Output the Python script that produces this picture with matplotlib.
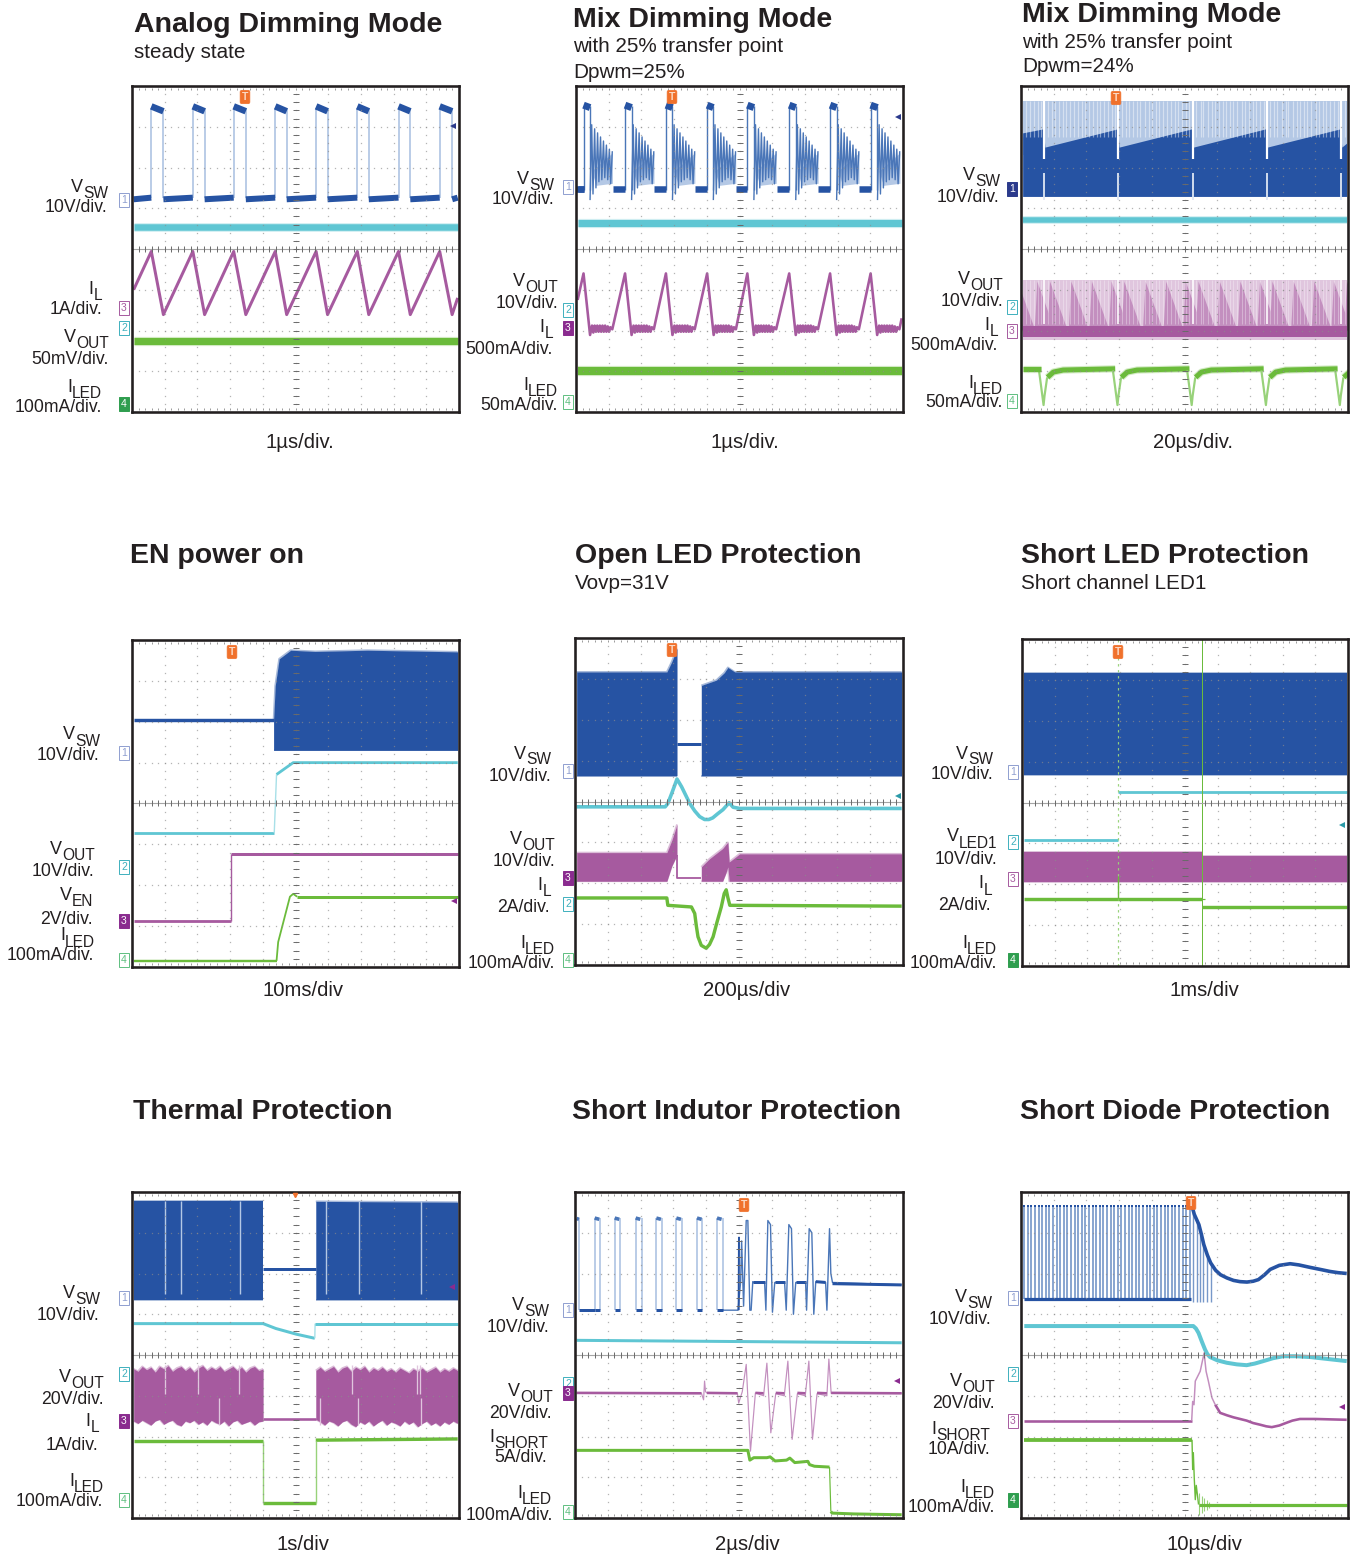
import matplotlib
matplotlib.use('Agg')
import matplotlib.pyplot as plt
import numpy as np
from matplotlib.lines import Line2D

W, H = 1352, 1556
plt.rcParams['font.family'] = ['Liberation Sans', 'DejaVu Sans']
plt.rcParams['lines.solid_capstyle'] = 'butt'

BLUE = '#2653a3'
MBLUE = '#4a76b8'
LBLUE = '#b4c8e5'
CYAN = '#5fc6d3'
LCYAN = '#a8e0e8'
PURPLE = '#a65a9f'
MPURPLE = '#c38fbf'
LPURPLE = '#e0c6de'
GREEN = '#6bbb3b'
LGREEN = '#98d27a'
INK = '#231f20'

# frames in pixels: left, top, right, bottom
frames = [(132, 86, 459, 412), (576, 86, 903, 412), (1021, 86, 1348, 412),
          (132, 640, 459, 967), (575, 638, 903, 965), (1022, 639, 1348, 966),
          (132, 1192, 459, 1518), (575, 1192, 903, 1518), (1021, 1192, 1348, 1518)]

# titles: text, x, y, bold
titles = [('Analog Dimming Mode', 134, 23, True), ('steady state', 134, 50, False),
          ('Mix Dimming Mode', 573, 18, True), ('with 25% transfer point', 573, 45, False), ('Dpwm=25%', 573, 70, False),
          ('Mix Dimming Mode', 1022, 13, True), ('with 25% transfer point', 1022, 40, False), ('Dpwm=24%', 1022, 65, False),
          ('EN power on', 130, 554, True),
          ('Open LED Protection', 575, 554, True), ('Vovp=31V', 575, 581, False),
          ('Short LED Protection', 1021, 554, True), ('Short channel LED1', 1021, 581, False),
          ('Thermal Protection', 133, 1110, True),
          ('Short Indutor Protection', 572, 1110, True),
          ('Short Diode Protection', 1020, 1110, True)]

time_labels = [('1µs/div.', 300, 440), ('1µs/div.', 745, 440), ('20µs/div.', 1193, 440),
               ('10ms/div', 303, 988), ('200µs/div', 747, 988), ('1ms/div', 1204, 988),
               ('1s/div', 303, 1543), ('2µs/div', 747, 1543), ('10µs/div', 1204, 1543)]

VSW = ('V', 'SW')
VOUT = ('V', 'OUT')
IL = ('I', 'L')
ILED = ('I', 'LED')
VEN = ('V', 'EN')
VLED1 = ('V', 'LED1')
ISHORT = ('I', 'SHORT')

# channel names and scales: text, right edge, y
side_labels = [
    (VSW, 108, 188), ('10V/div.', 107, 205), (IL, 102, 290), ('1A/div.', 102, 308),
    (VOUT, 109, 338), ('50mV/div.', 109, 358), (ILED, 102, 388), ('100mA/div.', 102, 405),
    (VSW, 554, 180), ('10V/div.', 554, 198), (VOUT, 558, 282), ('10V/div.', 558, 302),
    (IL, 553, 328), ('500mA/div.', 553, 347), (ILED, 558, 387), ('50mA/div.', 558, 404),
    (VSW, 1000, 177), ('10V/div.', 999, 196), (VOUT, 1003, 280), ('10V/div.', 1003, 299),
    (IL, 998, 326), ('500mA/div.', 998, 344), (ILED, 1003, 384), ('50mA/div.', 1003, 401),
    (VSW, 100, 736), ('10V/div.', 99, 754), (VOUT, 95, 850), ('10V/div.', 94, 869),
    (VEN, 93, 897), ('2V/div.', 93, 917), (ILED, 95, 937), ('100mA/div.', 94, 954),
    (VSW, 551, 755), ('10V/div.', 551, 774), (VOUT, 555, 840), ('10V/div.', 555, 860),
    (IL, 551, 886), ('2A/div.', 550, 905), (ILED, 555, 945), ('100mA/div.', 555, 961),
    (VSW, 993, 755), ('10V/div.', 993, 773), (VLED1, 997, 838), ('10V/div.', 997, 857),
    (IL, 992, 885), ('2A/div.', 991, 904), (ILED, 997, 945), ('100mA/div.', 997, 961),
    (VSW, 100, 1294), ('10V/div.', 99, 1313), (VOUT, 104, 1378), ('20V/div.', 104, 1398),
    (IL, 99, 1423), ('1A/div.', 98, 1443), (ILED, 104, 1483), ('100mA/div.', 103, 1500),
    (VSW, 549, 1307), ('10V/div.', 549, 1326), (VOUT, 553, 1392), ('20V/div.', 552, 1411),
    (ISHORT, 548, 1439), ('5A/div.', 547, 1456), (ILED, 552, 1495), ('100mA/div.', 553, 1513),
    (VSW, 992, 1299), ('10V/div.', 991, 1318), (VOUT, 995, 1383), ('20V/div.', 995, 1402),
    (ISHORT, 990, 1431), ('10A/div.', 990, 1447), (ILED, 995, 1488), ('100mA/div.', 995, 1505),
]

# channel flags: number, x, y, colour, filled
chan_flags = [
    ('1', 124, 200, '#8f9fd0', False), ('3', 124, 308, PURPLE, False), ('2', 124, 328, '#3fb0bd', False), ('4', 124, 404, '#2f9e4f', True),
    ('1', 568, 187, '#8f9fd0', False), ('2', 568, 310, '#3fb0bd', False), ('3', 568, 328, '#8a2b8f', True), ('4', 568, 402, '#5fbf80', False),
    ('1', 1012, 189, '#2b3a8c', True), ('2', 1012, 307, '#3fb0bd', False), ('3', 1012, 331, PURPLE, False), ('4', 1012, 401, '#5fbf80', False),
    ('1', 124, 753, '#8f9fd0', False), ('2', 124, 867, '#3fb0bd', False), ('3', 124, 921, '#8a2b8f', True), ('4', 124, 960, '#5fbf80', False),
    ('1', 568, 771, '#8f9fd0', False), ('3', 568, 878, '#8a2b8f', True), ('2', 568, 904, '#3fb0bd', False), ('4', 568, 960, '#5fbf80', False),
    ('1', 1013, 772, '#8f9fd0', False), ('2', 1013, 842, '#3fb0bd', False), ('3', 1013, 879, PURPLE, False), ('4', 1013, 960, '#2f9e4f', True),
    ('1', 124, 1298, '#8f9fd0', False), ('2', 124, 1374, '#3fb0bd', False), ('3', 124, 1421, '#8a2b8f', True), ('4', 124, 1500, '#5fbf80', False),
    ('1', 568, 1310, '#8f9fd0', False), ('2', 568, 1384, '#3fb0bd', False), ('3', 568, 1393, '#8a2b8f', True), ('4', 568, 1512, '#5fbf80', False),
    ('1', 1013, 1298, '#8f9fd0', False), ('2', 1013, 1374, '#3fb0bd', False), ('3', 1013, 1421, PURPLE, False), ('4', 1013, 1500, '#2f9e4f', True),
]

trigger_x_y = [(245, 97), (672, 97), (1116, 98), (232, 652), (672, 650), (1118, 652), (744, 1205), (1191, 1203)]
level_arrows = [(453, 126, '#2b3a8c'), (898, 117, '#2b3a8c'), (898, 796, '#2a9aa8'), (1342, 825, '#2a9aa8'),
                (454, 901, '#8a2b8f'), (452, 1287, '#8a2b8f'), (897, 1381, '#8a2b8f'), (1342, 1407, '#8a2b8f')]

# ---- traces, x in divisions (0-10), y in divisions (0-8) ----
# panel 1
p1_rise = [0.59, 1.86, 3.11, 4.38, 5.63, 6.89, 8.15, 9.41]
p1_fall = [0.96, 2.22, 3.48, 4.73, 5.98, 7.24, 8.51, 9.79]
p1_il_x = [0.05, 0.59, 0.96, 1.86, 2.22, 3.11, 3.48, 4.38, 4.73, 5.63, 5.98, 6.89, 7.24, 8.15, 8.51, 9.41, 9.79, 9.96]
p1_il_y = [3.0, 3.94, 2.39, 3.94, 2.39, 3.94, 2.39, 3.94, 2.39, 3.94, 2.39, 3.94, 2.39, 3.94, 2.39, 3.94, 2.39, 2.8]

# panel 2
p2_rise = [0.23, 1.50, 2.75, 4.01, 5.24, 6.52, 7.77, 9.01]
p2_fall = [0.43, 1.70, 2.95, 4.20, 5.44, 6.72, 7.97, 9.22]
p2_ring_dx = [0.0, 0.05, 0.09, 0.14, 0.18, 0.23, 0.27, 0.32, 0.36, 0.41, 0.45, 0.50, 0.54, 0.59, 0.63, 0.68]
p2_ring_y = [5.2, 7.05, 5.35, 6.95, 5.5, 6.85, 5.65, 6.75, 5.7, 6.65, 5.75, 6.55, 5.7, 6.45, 5.6, 6.4]
p2_il_dx = [0.0, 0.20, 0.26, 0.30, 0.34, 0.38, 0.42, 0.46, 0.50, 0.54, 0.58, 0.62, 0.66, 0.70, 0.74, 0.78, 0.82, 0.88]
p2_il_y = [3.4, 1.89, 2.12, 1.95, 2.12, 1.97, 2.12, 1.97, 2.12, 1.97, 2.12, 1.97, 2.12, 1.97, 2.1, 1.97, 2.08, 2.03]

# panel 3
p3_gaps = [0.71, 2.98, 5.25, 7.51, 9.79]
p3_dark_x = [0.05, 0.69, 0.73, 2.96, 3.00, 5.23, 5.27, 7.49, 7.53, 9.77, 9.81, 9.96]
p3_dark_top = [6.85, 6.95, 6.5, 6.95, 6.5, 6.95, 6.5, 6.95, 6.5, 6.95, 6.5, 6.6]
p3_stripe_dx = [0.11, 0.24, 0.33, 0.46, 0.58, 0.67, 0.8, 0.92, 1.03, 1.15, 1.24, 1.37, 1.5, 1.6, 1.72, 1.83, 1.95, 2.07, 2.17]
p3_tri_dx = [0.1, 0.75, 1.38, 1.98]
p3_green_x = [0.05, 0.55, 0.62, 0.69, 0.72, 0.8, 1.1]
p3_green_y = [1.05, 1.02, 0.6, 0.17, 0.4, 0.85, 1.0]
p3_dips = [0.69, 2.95, 5.22, 7.49, 9.75]

# panel 4
p4_body_x = [4.33, 4.38, 4.50, 4.85, 5.6, 7.2, 9.96]
p4_body_top = [6.04, 6.88, 7.54, 7.75, 7.72, 7.75, 7.71]
p4_green_x = [4.42, 4.47, 4.83, 4.93, 5.05]
p4_green_y = [0.15, 0.61, 1.72, 1.79, 1.72]

# panel 5
p5_left_x = [0.05, 2.80, 2.95, 3.11]
p5_left_top = [7.17, 7.17, 7.42, 7.74]
p5_right_x = [3.85, 4.31, 4.55, 4.66, 4.87, 9.96]
p5_right_top = [6.84, 6.97, 7.15, 7.28, 7.17, 7.17]
p5_cyan_x = [0.05, 2.75, 2.83, 2.95, 3.11, 3.25, 3.39, 3.5, 3.65, 3.8, 3.95, 4.08, 4.2, 4.35, 4.51, 4.6, 4.7, 4.82, 5.02, 9.96]
p5_cyan_y = [3.87, 3.87, 3.95, 4.2, 4.55, 4.36, 4.13, 3.95, 3.77, 3.63, 3.56, 3.56, 3.6, 3.7, 3.8, 3.88, 3.97, 3.86, 3.83, 3.83]
p5_il1_x = [0.05, 2.80, 2.95, 3.11]
p5_il1_top = [2.75, 2.75, 3.05, 3.44]
p5_il1_bot = [2.05, 2.05, 2.42, 2.69]
p5_il2_x = [3.85, 4.10, 4.50, 4.60, 4.66, 4.70, 5.02, 9.96]
p5_il2_top = [2.4, 2.6, 2.85, 2.95, 3.0, 2.52, 2.72, 2.72]
p5_il2_bot = [2.05, 2.05, 2.05, 2.25, 2.4, 2.05, 2.05, 2.05]
p5_green_x = [0.05, 2.80, 2.83, 3.55, 3.65, 3.70, 3.75, 3.85, 4.0, 4.1, 4.21, 4.33, 4.46, 4.55, 4.61, 4.66, 4.72, 9.96]
p5_green_y = [1.64, 1.64, 1.46, 1.42, 1.26, 0.95, 0.69, 0.48, 0.41, 0.5, 0.69, 1.05, 1.42, 1.75, 1.84, 1.65, 1.46, 1.44]

# panel 6
p6_il_x = [0.05, 5.52, 5.52, 9.96]
p6_il_top = [2.78, 2.78, 2.7, 2.7]

# panel 7
p7_flashes = [1.01, 1.51, 3.29, 5.92, 6.94, 8.84]
p7_il1_top = [3.66, 3.6, 3.72, 3.64, 3.7, 3.58, 3.72, 3.66, 3.74, 3.6, 3.68, 3.72, 3.62, 3.7, 3.58, 3.68, 3.74, 3.62,
              3.7, 3.64, 3.72, 3.6, 3.66, 3.72, 3.62, 3.7, 3.58, 3.68, 3.72, 3.62, 3.66]
p7_il1_bot = [2.38, 2.32, 2.4, 2.34, 2.28, 2.38, 2.42, 2.3, 2.36, 2.4, 2.3, 2.26, 2.38, 2.34, 2.4, 2.3, 2.36, 2.28,
              2.4, 2.34, 2.3, 2.38, 2.26, 2.36, 2.4, 2.3, 2.34, 2.38, 2.28, 2.36, 2.38]
p7_il2_top = [3.62, 3.7, 3.6, 3.66, 3.72, 3.58, 3.68, 3.72, 3.6, 3.7, 3.64, 3.72, 3.58, 3.68, 3.62, 3.7, 3.6, 3.66,
              3.58, 3.68, 3.62, 3.56, 3.66, 3.6, 3.68, 3.58, 3.64, 3.7, 3.58, 3.66, 3.6, 3.68, 3.62]
p7_il2_bot = [2.42, 2.36, 2.28, 2.38, 2.34, 2.26, 2.36, 2.4, 2.3, 2.24, 2.36, 2.3, 2.38, 2.26, 2.34, 2.4, 2.28, 2.36,
              2.32, 2.26, 2.38, 2.3, 2.36, 2.24, 2.32, 2.38, 2.28, 2.34, 2.26, 2.36, 2.3, 2.38, 2.32]
p7_il_notch_top = [1.0, 2.02, 3.27, 6.72, 8.73, 8.82]
p7_il_notch_bot = [2.67, 5.75, 6.9, 8.84]
p7_cyan_x = [0.05, 4.01, 4.4, 5.03, 5.59]
p7_cyan_y = [4.77, 4.77, 4.65, 4.51, 4.41]
p7_cyan2_x = [5.6, 9.96]
p7_cyan2_y = [4.77, 4.77]

# panel 8
p8_rise = [0.60, 1.21, 1.85, 2.48, 3.09, 3.72, 4.33]
p8_fall = [0.75, 1.38, 2.03, 2.64, 3.27, 3.88, 4.51]
p8_burst_x = [4.51, 4.97, 5.05, 5.08, 5.14, 5.22, 5.27, 5.33, 5.37, 5.42, 5.44, 5.78, 5.82, 5.88, 5.96, 6.02, 6.09, 6.39, 6.44, 6.52, 6.6, 6.66, 6.73, 7.03, 7.06, 7.14, 7.22, 7.28, 7.34, 7.64, 7.68, 7.76, 7.80, 7.85, 9.96]
p8_burst_y = [5.1, 5.1, 5.8, 6.8, 5.2, 7.3, 7.3, 5.1, 5.1, 5.8, 5.78, 5.78, 5.1, 7.3, 7.2, 5.05, 5.78, 5.78, 5.1, 7.2, 7.1, 5.0, 5.78, 5.78, 5.1, 7.1, 7.0, 5.0, 5.8, 5.78, 5.1, 7.1, 6.0, 5.78, 5.72]
p8_flat_x = [[7.85, 9.96], [5.44, 5.78], [6.09, 6.39], [6.73, 7.03], [7.34, 7.64]]
p8_flat_y = [[5.75, 5.72], [5.78, 5.78], [5.78, 5.78], [5.78, 5.78], [5.8, 5.78]]
p8_il_x = [0.05, 3.85, 3.92, 3.95, 3.98, 4.02, 4.95, 4.99, 5.1, 5.22, 5.35, 5.5, 5.75, 5.85, 5.97, 6.12, 6.38, 6.49, 6.62, 6.78, 7.02, 7.13, 7.24, 7.38, 7.68, 7.74, 7.81, 9.96]
p8_il_y = [3.07, 3.07, 2.9, 3.36, 3.1, 3.07, 3.07, 2.82, 3.1, 3.77, 1.64, 3.07, 3.0, 3.8, 2.09, 3.05, 3.0, 3.85, 1.93, 3.05, 3.0, 3.85, 1.93, 3.05, 3.0, 3.9, 3.06, 3.06]
p8_il_dark = [[0.05, 3.85], [4.02, 4.95], [5.5, 5.75], [6.12, 6.38], [6.78, 7.02], [7.38, 7.68], [7.81, 9.96]]
p8_green_x = [0.05, 5.27, 5.33, 5.45, 5.85, 5.95, 6.1, 6.45, 6.55, 6.7, 7.1, 7.15, 7.3, 7.76]
p8_green_y = [1.66, 1.66, 1.42, 1.48, 1.48, 1.5, 1.4, 1.42, 1.47, 1.36, 1.39, 1.31, 1.27, 1.25]
p8_green2_x = [7.80, 7.84, 8.5, 9.2, 9.96]
p8_green2_y = [0.16, 0.12, 0.1, 0.09, 0.08]

# panel 9
p9_comb = [0.1, 0.21, 0.32, 0.43, 0.54, 0.65, 0.76, 0.87, 0.98, 1.09, 1.2, 1.31, 1.42, 1.53, 1.64, 1.75,
           1.86, 1.97, 2.08, 2.19, 2.3, 2.41, 2.52, 2.63, 2.74, 2.85, 2.96, 3.07, 3.18, 3.29, 3.4, 3.51,
           3.62, 3.73, 3.84, 3.95, 4.06, 4.17, 4.28, 4.39, 4.5, 4.61, 4.72, 4.83, 4.94, 5.05, 5.16]
p9_tail = [5.27, 5.37, 5.47, 5.57, 5.68, 5.8]
p9_tail_top = [7.6, 7.28, 6.95, 6.71, 6.4, 6.26]
p9_sw_x = [5.23, 5.3, 5.44, 5.52, 5.59, 5.7, 5.8, 5.95, 6.1, 6.3, 6.5, 6.7, 6.91, 7.1, 7.26, 7.45, 7.62, 7.9, 8.23, 8.5, 8.84, 9.15, 9.45, 9.7, 9.96]
p9_sw_y = [7.65, 7.45, 7.2, 6.95, 6.71, 6.45, 6.26, 6.08, 5.97, 5.89, 5.83, 5.8, 5.79, 5.81, 5.85, 5.97, 6.1, 6.2, 6.24, 6.21, 6.15, 6.1, 6.05, 6.02, 6.0]
p9_cyan_x = [0.1, 5.27, 5.35, 5.43, 5.53, 5.63, 5.7, 5.78, 6.0, 6.29, 6.6, 6.9, 7.15, 7.41, 7.7, 8.02, 8.4, 8.84, 9.4, 9.96]
p9_cyan_y = [4.71, 4.71, 4.65, 4.54, 4.33, 4.13, 4.02, 3.95, 3.87, 3.81, 3.77, 3.75, 3.79, 3.85, 3.92, 3.97, 3.97, 3.95, 3.9, 3.85]
p9_il_thin_x = [5.22, 5.25, 5.29, 5.33, 5.38, 5.48, 5.6, 5.66, 5.73, 5.84, 5.94]
p9_il_thin_y = [2.39, 2.86, 2.78, 3.36, 3.44, 3.6, 4.05, 3.6, 3.36, 2.95, 2.78]
p9_il2_x = [5.94, 6.09, 6.3, 6.5, 6.7, 6.9, 7.1, 7.31, 7.5, 7.67, 7.9, 8.13, 8.3, 8.53, 9.0, 9.96]
p9_il2_y = [2.78, 2.58, 2.52, 2.47, 2.43, 2.39, 2.33, 2.29, 2.25, 2.23, 2.27, 2.34, 2.39, 2.43, 2.43, 2.41]
p9_green_drop_x = [5.23, 5.25, 5.27, 5.3, 5.33, 5.36, 5.43]
p9_green_drop_y = [1.92, 1.19, 1.6, 0.95, 0.45, 0.8, 0.33]
p9_green_grass = [5.45, 5.52, 5.6, 5.68, 5.76]
p9_green_grass_top = [0.62, 0.55, 0.5, 0.45, 0.4]
p9_green_grass_bot = [0.08, 0.12, 0.16, 0.2, 0.24]


def px_lw(p):
    return p * 0.72


def graticule(ax):
    xs = np.arange(0, 10.01, 0.2)
    ys = np.arange(0, 8.01, 0.2)
    for y in range(1, 8):
        ax.plot(xs, np.full(xs.size, y), ls='none', marker='s', ms=0.9, mew=0, color='#8c8c8c', alpha=0.65, zorder=6)
    for x in range(1, 10):
        ax.plot(np.full(ys.size, x), ys, ls='none', marker='s', ms=0.9, mew=0, color='#8c8c8c', alpha=0.65, zorder=6)
    ax.axhline(4, color='#a5a5a5', lw=0.8, zorder=6)
    ax.plot(xs, np.full(xs.size, 4), ls='none', marker='|', ms=4, mew=0.7, color='#6a6a6a', zorder=6)
    ax.plot(np.full(ys.size, 5), ys, ls='none', marker='_', ms=4, mew=0.7, color='#6a6a6a', zorder=6)
    ax.plot(xs, np.full(xs.size, 0.08), ls='none', marker='|', ms=2, mew=0.6, color='#8a8a8a', zorder=6)
    ax.plot(xs, np.full(xs.size, 7.92), ls='none', marker='|', ms=2, mew=0.6, color='#8a8a8a', zorder=6)


def trace(ax, x, y, lw, color, halo=True):
    # thick scope trace with a soft edge
    if halo:
        ax.plot(x, y, color=color, lw=px_lw(lw + 2.2), alpha=0.3, zorder=3)
    ax.plot(x, y, color=color, lw=px_lw(lw), zorder=3)


def band(ax, y, lw, color, x0=0.05, x1=9.96):
    trace(ax, [x0, x1], [y, y], lw, color)


def body(ax, x, bot, top, color):
    # solid block of a fast switching trace with a soft fringe
    ax.fill_between(x, bot, top, color=color, lw=0, zorder=2)
    bot_line = np.full(len(x), bot) if np.isscalar(bot) else bot
    ax.plot(x, top, color=color, lw=px_lw(1.8), alpha=0.4, zorder=2)
    ax.plot(x, bot_line, color=color, lw=px_lw(1.8), alpha=0.4, zorder=2)


fig = plt.figure(figsize=(W / 100, H / 100), dpi=100)
axes = []
for left, top, right, bottom in frames:
    ax = fig.add_axes([left / W, 1 - bottom / H, (right - left) / W, (bottom - top) / H])
    ax.set_xlim(0, 10)
    ax.set_ylim(0, 8)
    ax.set_xticks([])
    ax.set_yticks([])
    for s in ax.spines.values():
        s.set_linewidth(px_lw(2.6))
        s.set_color(INK)
        s.set_zorder(10)
    graticule(ax)
    axes.append(ax)

# panel 1
ax = axes[0]
ax.vlines(p1_rise + p1_fall, 5.25, 7.45, color=LBLUE, lw=px_lw(1.8), zorder=2)
for r, f in zip(p1_rise, p1_fall):
    trace(ax, [r, f], [7.5, 7.38], 6.5, BLUE, halo=False)
lows = [0.05] + p1_fall
ups = p1_rise + [9.96]
for f, r in zip(lows, ups):
    trace(ax, [f, r], [5.22, 5.26], 6, BLUE, halo=False)
band(ax, 4.55, 6.5, CYAN)
ax.plot(p1_il_x, p1_il_y, color=PURPLE, lw=px_lw(3), zorder=3)
band(ax, 1.75, 7, GREEN)

# panel 2
ax = axes[1]
ax.vlines(p2_rise + p2_fall, 5.45, 7.5, color=MBLUE, lw=px_lw(1.4), zorder=2)
for r, f in zip(p2_rise, p2_fall):
    trace(ax, [r, f], [7.53, 7.47], 7, BLUE, halo=False)
    ax.fill([f + 0.06, f + 0.7, f + 0.7, f + 0.2], [5.9, 6.35, 5.6, 5.55], color=LBLUE, lw=0, zorder=1)
    ax.plot(f + np.array(p2_ring_dx), p2_ring_y, color=MBLUE, lw=px_lw(1.4), zorder=2)
    trace(ax, [r - 0.36, r], [5.47, 5.47], 6.5, BLUE, halo=False)
trace(ax, [0.05, 0.23], [5.47, 5.47], 6.5, BLUE, halo=False)
band(ax, 4.65, 7, CYAN)
p2_peaks = [0.23, 1.50, 2.75, 4.01, 5.24, 6.52, 7.77, 9.01]
il_x = [0.05]
il_y = [2.75]
for p in p2_peaks:
    il_x.extend(p + np.array(p2_il_dx))
    il_y.extend(p2_il_y)
il_x.append(9.96)
il_y.append(2.3)
ax.plot(il_x, il_y, color=PURPLE, lw=px_lw(2.6), zorder=3)
band(ax, 1.01, 8, GREEN)

# panel 3
ax = axes[2]
ax.fill_between([0.05, 9.96], 6.3, 7.62, color=LBLUE, lw=0, zorder=1)
ax.fill_between(p3_dark_x, 5.29, p3_dark_top, color=BLUE, lw=0, zorder=2)
for g in [-1.56] + p3_gaps:
    ax.vlines(g + np.array(p3_stripe_dx), 6.75, 7.62, color='white', lw=px_lw(1.2), alpha=0.45, zorder=2)
ax.vlines(p3_gaps, 6.22, 7.66, color='white', lw=px_lw(2.2), zorder=3)
ax.vlines(p3_gaps, 5.2, 5.86, color='#dfe7f4', lw=px_lw(1.8), zorder=3)
band(ax, 4.71, 5.5, CYAN)
ax.fill_between([0.05, 9.96], 1.77, 3.24, color=LPURPLE, lw=0, zorder=1)
for g in [-1.56] + p3_gaps:
    for dx in p3_tri_dx:
        xa = g + dx
        ax.fill([xa, xa + 0.08, xa + 0.62], [2.0, 3.2, 2.0], color=MPURPLE, lw=0, zorder=2)
    ax.vlines(g + np.array(p3_stripe_dx), 2.15, 3.24, color='white', lw=px_lw(0.9), alpha=0.35, zorder=2)
ax.fill_between([0.05, 9.96], 1.84, 2.1, color=PURPLE, lw=0, zorder=3)
ax.vlines(p3_gaps, 2.15, 3.3, color='white', lw=px_lw(1.6), zorder=3)
for d, d2 in zip(p3_dips, p3_dips[1:] + [12.0]):
    ax.plot(d - 0.69 + np.array(p3_green_x[1:6]), p3_green_y[1:6], color=LGREEN, lw=px_lw(2.2), zorder=3)
    trace(ax, [d + 0.12, d + 0.3, d + 0.6, d2 - 0.07], [0.85, 0.98, 1.03, 1.06], 5, GREEN)
trace(ax, [0.05, 0.62], [1.05, 1.05], 5, GREEN)

# panel 4
ax = axes[3]
trace(ax, [0.05, 4.35], [6.04, 6.04], 3.4, BLUE, halo=False)
body(ax, p4_body_x, 5.3, p4_body_top, BLUE)
trace(ax, [0.05, 4.35], [3.28, 3.28], 2.8, CYAN, halo=False)
ax.plot([4.35, 4.42], [3.28, 4.71], color=LCYAN, lw=px_lw(1.4), zorder=3)
trace(ax, [4.42, 4.93, 9.96], [4.71, 5.0, 5.0], 2.8, CYAN, halo=False)
trace(ax, [0.05, 3.02], [1.12, 1.12], 2.8, PURPLE, halo=False)
ax.plot([3.02, 3.02], [1.12, 2.77], color=PURPLE, lw=px_lw(1.4), zorder=3)
trace(ax, [3.02, 9.96], [2.77, 2.77], 3, PURPLE, halo=False)
trace(ax, [0.05, 4.42], [0.15, 0.15], 2.4, GREEN, halo=False)
ax.plot(p4_green_x, p4_green_y, color=GREEN, lw=px_lw(1.8), zorder=3)
trace(ax, [5.05, 9.96], [1.72, 1.72], 3, GREEN, halo=False)

# panel 5
ax = axes[4]
body(ax, p5_left_x, 4.63, p5_left_top, BLUE)
body(ax, p5_right_x, 4.63, p5_right_top, BLUE)
trace(ax, [3.11, 3.85], [5.41, 5.41], 3, BLUE, halo=False)
ax.plot(p5_cyan_x, p5_cyan_y, color=CYAN, lw=px_lw(3.6), zorder=3)
body(ax, p5_il1_x, p5_il1_bot, p5_il1_top, PURPLE)
body(ax, p5_il2_x, p5_il2_bot, p5_il2_top, PURPLE)
ax.plot([3.11, 3.11, 3.85], [2.69, 2.13, 2.13], color=PURPLE, lw=px_lw(1.8), zorder=3)
ax.plot(p5_green_x, p5_green_y, color=GREEN, lw=px_lw(3.4), zorder=3)

# panel 6
ax = axes[5]
body(ax, [0.05, 9.96], 4.68, [7.18, 7.18], BLUE)
trace(ax, [0.05, 2.95], [3.09, 3.09], 2.8, CYAN, halo=False)
trace(ax, [2.95, 9.96], [4.25, 4.25], 2.8, CYAN, halo=False)
body(ax, p6_il_x, 2.06, p6_il_top, PURPLE)
ax.plot([2.96, 2.96], [0, 8], color=LGREEN, lw=px_lw(1.2), ls=(0, (2, 3)), zorder=4)
ax.plot([2.96, 2.96], [1.64, 2.19], color=GREEN, lw=px_lw(1.4), zorder=4)
ax.plot([5.52, 5.52], [0, 8], color=GREEN, lw=px_lw(1.0), zorder=4)
trace(ax, [0.05, 5.52], [1.64, 1.64], 3.4, GREEN, halo=False)
ax.plot([5.52, 5.62], [1.64, 1.64], color=GREEN, lw=px_lw(1.2), zorder=3)
trace(ax, [5.52, 9.96], [1.45, 1.45], 3.4, GREEN, halo=False)

# panel 7
ax = axes[6]
body(ax, [0.05, 4.01], 5.36, [7.77, 7.77], BLUE)
body(ax, [5.62, 9.96], 5.36, [7.77, 7.75], BLUE)
ax.vlines(p7_flashes, 5.5, 7.77, color=LBLUE, lw=px_lw(1.4), zorder=3)
trace(ax, [4.01, 5.62], [6.1, 6.1], 3, BLUE, halo=False)
ax.plot(p7_cyan_x, p7_cyan_y, color=CYAN, lw=px_lw(3), zorder=3)
ax.plot([5.59, 5.6], [4.41, 4.77], color=LCYAN, lw=px_lw(1.4), zorder=3)
ax.plot(p7_cyan2_x, p7_cyan2_y, color=CYAN, lw=px_lw(3), zorder=3)
body(ax, np.linspace(0.05, 4.01, len(p7_il1_top)), p7_il1_bot, p7_il1_top, PURPLE)
body(ax, np.linspace(5.62, 9.96, len(p7_il2_top)), p7_il2_bot, p7_il2_top, PURPLE)
ax.vlines(p7_il_notch_top, 3.05, 3.75, color=LPURPLE, lw=px_lw(1.3), zorder=3)
ax.vlines(p7_il_notch_bot, 2.28, 2.95, color=LPURPLE, lw=px_lw(1.3), zorder=3)
trace(ax, [4.01, 5.62], [2.42, 2.42], 2.6, PURPLE, halo=False)
trace(ax, [0.05, 4.01], [1.89, 1.89], 3.4, GREEN, halo=False)
trace(ax, [4.01, 5.62], [0.37, 0.37], 3.4, GREEN, halo=False)
trace(ax, [5.62, 9.96], [1.91, 1.94], 3.4, GREEN, halo=False)
ax.vlines([4.01, 5.62], 0.37, 1.9, color=LGREEN, lw=px_lw(1.4), zorder=3)

# panel 8
ax = axes[7]
ax.vlines(p8_rise + p8_fall + [0.12], 5.1, 7.37, color=LBLUE, lw=px_lw(1.8), zorder=2)
for r, f in zip(p8_rise, p8_fall):
    trace(ax, [r, r + 0.14], [7.36, 7.33], 3.6, MBLUE, halo=False)
    trace(ax, [f, r], [5.1, 5.1], 3, BLUE, halo=False)
trace(ax, [0.12, 0.6], [5.1, 5.1], 3, BLUE, halo=False)
ax.plot([0.05, 0.12], [7.35, 7.33], color=MBLUE, lw=px_lw(3.6), zorder=3)
ax.plot(p8_burst_x, p8_burst_y, color=MBLUE, lw=px_lw(1.4), zorder=2)
ax.plot([4.99, 5.0], [5.1, 6.9], color=BLUE, lw=px_lw(2), zorder=3)
for xs_, ys_ in zip(p8_flat_x, p8_flat_y):
    trace(ax, xs_, ys_, 3, BLUE, halo=False)
ax.plot([0.05, 9.96], [4.36, 4.3], color=CYAN, lw=px_lw(3), zorder=3)
ax.plot(p8_il_x, p8_il_y, color=MPURPLE, lw=px_lw(1.2), zorder=3)
for a, b in p8_il_dark:
    ax.plot([a, b], [3.07, 3.06], color=PURPLE, lw=px_lw(2.6), zorder=3)
ax.plot(p8_green_x, p8_green_y, color=GREEN, lw=px_lw(3), zorder=3)
ax.plot([7.76, 7.80], [1.25, 0.16], color=GREEN, lw=px_lw(1.2), zorder=3)
ax.plot(p8_green2_x, p8_green2_y, color=GREEN, lw=px_lw(3), zorder=3)

# panel 9
ax = axes[8]
ax.vlines(p9_comb, 5.38, 7.68, color=MBLUE, lw=px_lw(1.7), alpha=0.75, zorder=2)
ax.vlines(p9_tail, 5.3, p9_tail_top, color=MBLUE, lw=px_lw(1.4), alpha=0.75, zorder=2)
ax.plot(p9_comb, np.full(len(p9_comb), 7.66), ls='none', marker='s', ms=1.6, mew=0, color=BLUE, zorder=3)
trace(ax, [0.1, 5.2], [5.38, 5.38], 3.2, BLUE, halo=False)
ax.plot(p9_sw_x, p9_sw_y, color=BLUE, lw=px_lw(3.6), zorder=3)
ax.plot(p9_cyan_x, p9_cyan_y, color=CYAN, lw=px_lw(4), zorder=3)
trace(ax, [0.1, 5.22], [2.39, 2.39], 2.6, PURPLE, halo=False)
ax.plot(p9_il_thin_x, p9_il_thin_y, color=MPURPLE, lw=px_lw(1.5), zorder=3)
ax.plot(p9_il2_x, p9_il2_y, color=PURPLE, lw=px_lw(2.6), zorder=3)
trace(ax, [0.1, 5.23], [1.92, 1.92], 3.8, GREEN, halo=False)
ax.plot(p9_green_drop_x, p9_green_drop_y, color=GREEN, lw=px_lw(1.4), zorder=3)
ax.vlines(p9_green_grass, p9_green_grass_bot, p9_green_grass_top, color=LGREEN, lw=px_lw(1.1), zorder=3)
trace(ax, [5.43, 9.96], [0.33, 0.33], 3.2, GREEN, halo=False)

# texts around the frames
renderer = fig.canvas.get_renderer()
for text, x, y, bold in titles:
    fig.text(x / W, 1 - (y + 2) / H, text, fontsize=20.5 if bold else 14.9, fontweight='bold' if bold else 'normal',
             color=INK, ha='left', va='center')
for text, x, y in time_labels:
    fig.text(x / W, 1 - (y + 2) / H, text, fontsize=14.6, color=INK, ha='center', va='center')
for label, x, y in side_labels:
    if isinstance(label, tuple):
        sub = fig.text(x / W, 1 - (y + 5) / H, label[1], fontsize=11.2, color=INK, ha='right', va='center')
        sub_w = sub.get_window_extent(renderer).width
        fig.text((x - sub_w) / W, 1 - (y - 1) / H, label[0], fontsize=13, color=INK, ha='right', va='center')
    else:
        fig.text(x / W, 1 - (y + 2) / H, label, fontsize=12.7, color=INK, ha='right', va='center')
for num, x, y, color, filled in chan_flags:
    fig.text(x / W, 1 - y / H, num, fontsize=7.5, color='white' if filled else color, ha='center', va='center',
             bbox=dict(boxstyle='square,pad=0.16', fc=color if filled else 'white', ec=color, lw=0.7))
for x, y in trigger_x_y:
    fig.text(x / W, 1 - y / H, 'T', fontsize=7.5, fontweight='bold', color='#fbd9c4', ha='center', va='center', zorder=12,
             bbox=dict(boxstyle='round,pad=0.16', fc='#f0712c', ec='#f0712c', lw=0.5))
fig.add_artist(Line2D([295 / W], [1 - 1195 / H], marker='v', ms=3, color='#f0712c', ls='none', zorder=12))
for x, y, color in level_arrows:
    fig.add_artist(Line2D([x / W], [1 - y / H], marker='<', ms=4, color=color, mew=0, ls='none', zorder=12))

fig.savefig('out.png', dpi=100)
